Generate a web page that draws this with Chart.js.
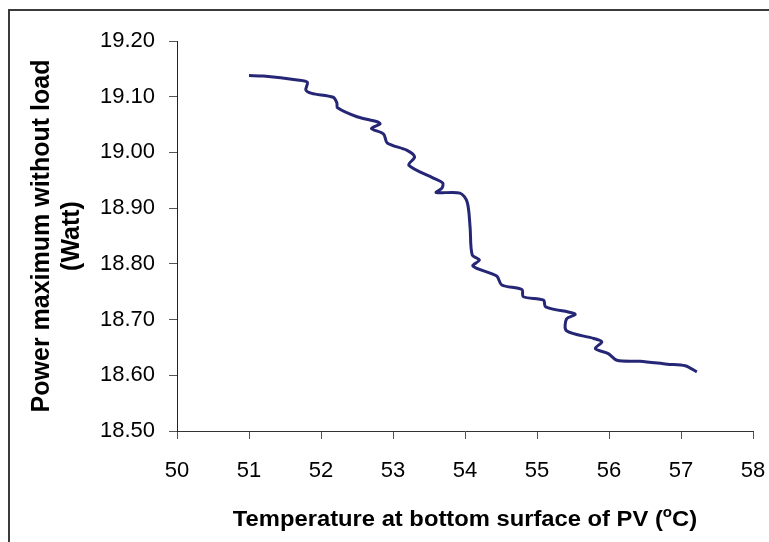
<!DOCTYPE html>
<html>
<head>
<meta charset="utf-8">
<title>Power vs temperature</title>
<script src="https://cdn.jsdelivr.net/npm/chart.js@4/dist/chart.umd.min.js"></script>
<style>
    html, body { margin: 0; padding: 0; background: #fff; }
    #wrap { width: 769px; height: 542px; }
</style>
</head>
<body>
<div id="wrap"><canvas id="chart" width="769" height="542"></canvas></div>
<script>
// values
const temperature = [
    51.00, 51.20, 51.67, 51.81, 51.79, 51.87, 52.17, 52.22, 52.23, 52.50,
    52.78, 52.82, 52.70, 52.87, 52.92, 53.19, 53.30, 53.22, 53.56, 53.69,
    53.68, 53.60, 53.93, 54.03, 54.07, 54.10, 54.20, 54.11, 54.44, 54.51,
    54.79, 54.81, 55.09, 55.12, 55.49, 55.53, 55.41, 55.41, 55.79, 55.90,
    55.81, 55.99, 56.11, 56.43, 56.81, 57.06, 57.22
];
const powerMax = [
    19.138, 19.137, 19.130, 19.126, 19.112, 19.106, 19.099, 19.089, 19.080, 19.064,
    19.055, 19.051, 19.043, 19.033, 19.017, 19.004, 18.992, 18.977, 18.954, 18.945,
    18.936, 18.928, 18.927, 18.911, 18.867, 18.816, 18.807, 18.796, 18.778, 18.762,
    18.754, 18.741, 18.735, 18.723, 18.712, 18.709, 18.701, 18.680, 18.666, 18.660,
    18.648, 18.639, 18.627, 18.625, 18.620, 18.617, 18.606
];
const xRange = [50, 58];
const yRange = [18.5, 19.2];
const yTitle = ['Power maximum without load', '(Watt)'];
const xTitle = ['Temperature at bottom surface of PV (', 'o', 'C)'];

const FONT = "'Liberation Sans', Arial, Helvetica, sans-serif";

const points = temperature.map((t, i) => ({ x: t, y: powerMax[i] }));

// white page + frame that runs off the right and bottom edges
const framePlugin = {
    id: 'frame',
    beforeDraw(chart) {
        const ctx = chart.ctx;
        ctx.save();
        ctx.fillStyle = '#fff';
        ctx.fillRect(0, 0, chart.width, chart.height);
        ctx.strokeStyle = '#3a3a3a';
        ctx.lineWidth = 2;
        ctx.strokeRect(9, 10, chart.width + 20, chart.height + 20);
        ctx.restore();
    }
};

// x title with the superscript "o" (the original text is a bit wide, so stretch it)
const xTitlePlugin = {
    id: 'xTitle',
    afterDraw(chart) {
        const ctx = chart.ctx;
        const area = chart.chartArea;
        const big = 'bold 22px ' + FONT;
        const small = 'bold 14px ' + FONT;
        const stretch = 1.08;
        ctx.save();
        ctx.fillStyle = '#000';
        ctx.textBaseline = 'alphabetic';
        ctx.font = big;
        const w1 = ctx.measureText(xTitle[0]).width;
        const w3 = ctx.measureText(xTitle[2]).width;
        ctx.font = small;
        const w2 = ctx.measureText(xTitle[1]).width;
        const cx = (area.left + area.right) / 2;
        ctx.translate(cx, 526);
        ctx.scale(stretch, 1);
        let x = -(w1 + w2 + w3) / 2;
        ctx.font = big;
        ctx.fillText(xTitle[0], x, 0);
        x += w1;
        ctx.font = small;
        ctx.fillText(xTitle[1], x, -9);
        x += w2;
        ctx.font = big;
        ctx.fillText(xTitle[2], x, 0);
        ctx.restore();
    }
};

new Chart(document.getElementById('chart'), {
    type: 'scatter',
    data: {
        datasets: [{
            data: points,
            showLine: true,
            borderColor: '#262676',
            borderWidth: 3,
            tension: 0.3,
            pointRadius: 0,
            pointHoverRadius: 0,
            fill: false
        }]
    },
    options: {
        responsive: false,
        animation: false,
        events: [],
        layout: { padding: { left: 0, top: 41, right: 16, bottom: 0 } },
        plugins: {
            legend: { display: false },
            tooltip: { enabled: false }
        },
        scales: {
            x: {
                type: 'linear',
                min: xRange[0],
                max: xRange[1],
                afterFit(scale) {
                    scale.height = 111;
                    // don't let the tick padding eat into the right side
                    scale.paddingLeft = 0;
                    scale.paddingRight = 0;
                },
                ticks: {
                    stepSize: 1,
                    padding: 19,
                    color: '#000',
                    font: { family: FONT, size: 22 }
                },
                grid: {
                    drawOnChartArea: false,
                    drawTicks: true,
                    tickLength: 8,
                    color: '#555'
                },
                border: { color: '#333', width: 1 }
            },
            y: {
                type: 'linear',
                min: yRange[0],
                max: yRange[1],
                afterFit(scale) { scale.width = 177; },
                ticks: {
                    stepSize: 0.1,
                    padding: 14,
                    color: '#000',
                    font: { family: FONT, size: 22 },
                    callback: v => v.toFixed(2)
                },
                grid: {
                    drawOnChartArea: false,
                    drawTicks: true,
                    tickLength: 8,
                    color: '#555'
                },
                border: { color: '#222', width: 1 },
                title: {
                    display: true,
                    text: yTitle,
                    color: '#000',
                    font: { family: FONT, size: 25, weight: 'bold', lineHeight: 1.2 },
                    padding: { top: 27, bottom: 0 }
                }
            }
        }
    },
    plugins: [framePlugin, xTitlePlugin]
});
</script>
</body>
</html>
